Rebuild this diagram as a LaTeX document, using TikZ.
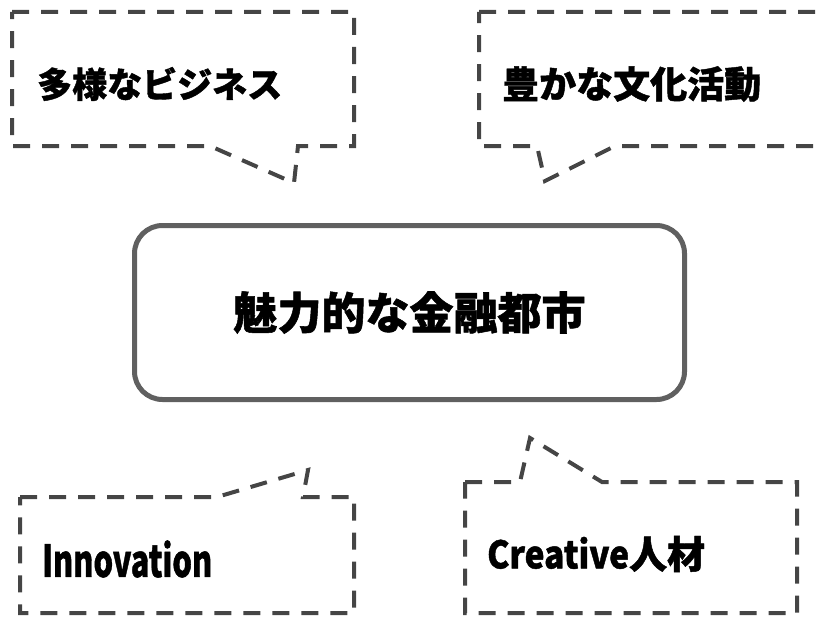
\documentclass[tikz,border=0pt]{standalone}
\usepackage{fontspec}
\usepackage{graphicx}
\newfontfamily\cjk{Noto Sans CJK JP}[BoldFeatures={FakeBold=1.2}]
\definecolor{dashGray}{HTML}{454545}
\definecolor{boxGray}{HTML}{606060}

\begin{document}
\begin{tikzpicture}[x=1pt,y=-1pt,
  callout/.style={draw=dashGray, line width=4pt, dash pattern=on 17pt off 12pt},
  label/.style={inner sep=0pt, anchor=west, font=\cjk\bfseries}]
\useasboundingbox (0,0) rectangle (818,618);
\clip (0,0) rectangle (818,618);

% central node
\node[draw=boxGray, line width=5pt, rounded corners=28pt, minimum width=550pt, minimum height=174pt,
      font=\cjk\bfseries\fontsize{44}{48}\selectfont] (financeCity) at (409.5,312.5) {魅力的な金融都市};

% callout texts
\node[label, font=\cjk\bfseries\fontsize{35}{40}\selectfont] (bizText) at (37,84) {多様なビジネス};
\node[label, font=\cjk\bfseries\fontsize{37}{40}\selectfont] (cultureText) at (502,84) {豊かな文化活動};
\node[label, font=\cjk\bfseries\fontsize{44}{48}\selectfont] (innovText) at (42,559) {\scalebox{0.7}[1]{Innovation}};
\node[label, font=\cjk\bfseries\fontsize{38}{42}\selectfont] (creativeText) at (487,554) {\scalebox{0.88}[1]{Creative}人材};

% callout outlines
\draw[callout] (12,12) -- (354,12) -- (354,146) -- (298,146) -- (294,183) -- (210,146) -- (12,146) -- cycle;
\draw[callout] (479,12) -- (840,12) -- (840,146) -- (615,146) -- (545,181) -- (537,146) -- (479,146) -- cycle;
\draw[callout] (20,497) -- (217,497) -- (308,470) -- (303,497) -- (354,497) -- (354,613) -- (20,613) -- cycle;
\draw[callout] (465,482) -- (520,482) -- (530,438) -- (602,482) -- (797,482) -- (797,613) -- (465,613) -- cycle;
\end{tikzpicture}
\end{document}
